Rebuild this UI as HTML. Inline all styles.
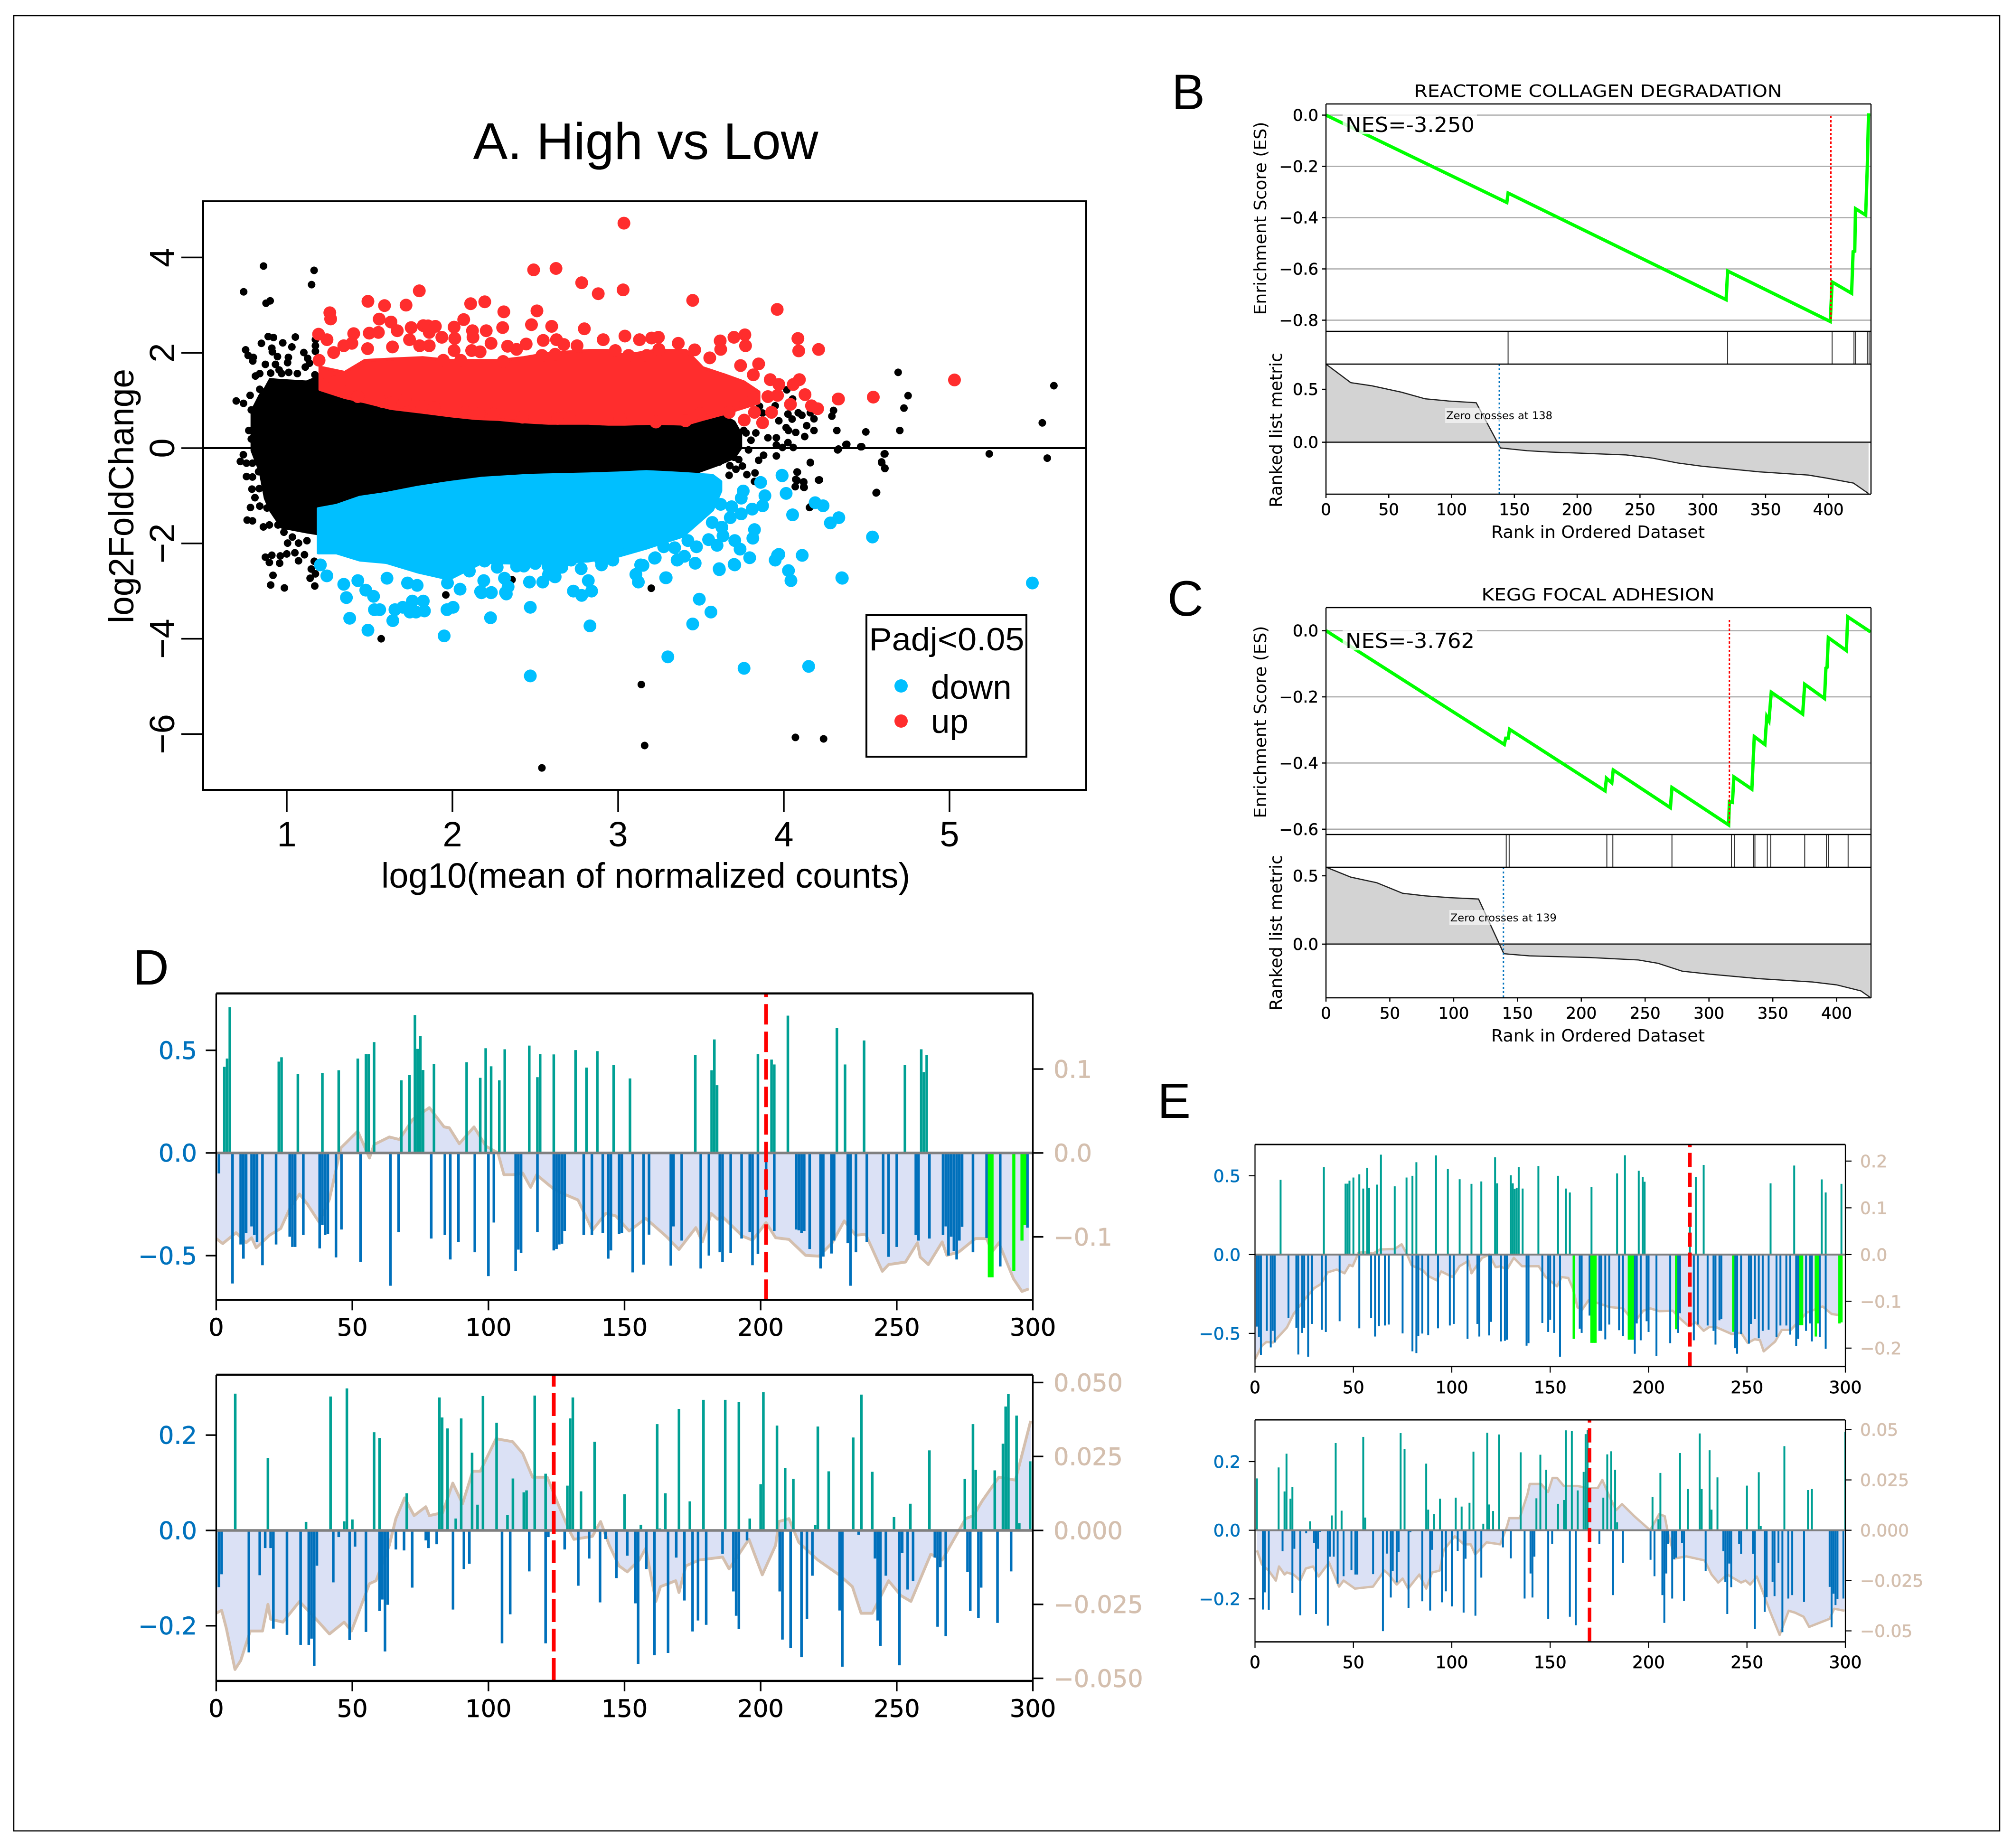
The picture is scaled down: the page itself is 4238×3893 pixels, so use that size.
<!DOCTYPE html>
<html><head><meta charset="utf-8"><title>Figure</title>
<style>
html,body{margin:0;padding:0;background:#fff}
svg{display:block}
.ls{font-family:"Liberation Sans",sans-serif}
.dj{font-family:"DejaVu Sans",sans-serif}
</style></head>
<body>
<svg id="fig" width="4238" height="3893" viewBox="0 0 4238 3893" xmlns="http://www.w3.org/2000/svg">
<rect width="4238" height="3893" fill="#fff"/>
<rect x="29" y="33" width="4183" height="3824" fill="none" stroke="#000" stroke-width="2.5"/>
<g id="panelA"></g>
<g id="panelB"></g>
<g id="panelC"></g>
<g id="panelD"></g>
<g id="panelE"></g>
<g id="labels">
<text class="ls" x="1360" y="335" font-size="109" text-anchor="middle" textLength="727" lengthAdjust="spacingAndGlyphs">A. High vs Low</text>
<text class="ls" x="1360" y="1870" font-size="74" text-anchor="middle" textLength="1114" lengthAdjust="spacingAndGlyphs">log10(mean of normalized counts)</text>
<text class="ls" transform="translate(281 1045) rotate(-90)" font-size="74" text-anchor="middle" textLength="536" lengthAdjust="spacingAndGlyphs">log2FoldChange</text>
<rect x="1825" y="1296" width="337" height="298" fill="#fff" stroke="#000" stroke-width="4"/>
<text class="ls" x="1994" y="1370" font-size="68" text-anchor="middle" textLength="327" lengthAdjust="spacingAndGlyphs">Padj&lt;0.05</text>
<circle cx="1898" cy="1445" r="14" fill="#00bfff"/>
<circle cx="1898" cy="1519" r="14" fill="#ff2d2d"/>
<text class="ls" x="1961" y="1472" font-size="71">down</text>
<text class="ls" x="1961" y="1544" font-size="71">up</text>
<text class="ls" x="2468" y="230" font-size="105">B</text>
<text class="ls" x="2459" y="1297" font-size="105">C</text>
<text class="ls" x="280" y="2074" font-size="105">D</text>
<text class="ls" x="2438" y="2355" font-size="105">E</text>
<text class="dj" x="3366" y="204" font-size="36" text-anchor="middle" textLength="775" lengthAdjust="spacingAndGlyphs">REACTOME COLLAGEN DEGRADATION</text>
<text class="dj" transform="translate(2667 460) rotate(-90)" font-size="36" text-anchor="middle" textLength="407" lengthAdjust="spacingAndGlyphs">Enrichment Score (ES)</text>
<text class="dj" transform="translate(2700 906) rotate(-90)" font-size="36" text-anchor="middle" textLength="326" lengthAdjust="spacingAndGlyphs">Ranked list metric</text>
<text class="dj" x="3366" y="1133" font-size="36" text-anchor="middle" textLength="450" lengthAdjust="spacingAndGlyphs">Rank in Ordered Dataset</text>
<text class="dj" x="3366" y="1265" font-size="36" text-anchor="middle" textLength="491" lengthAdjust="spacingAndGlyphs">KEGG FOCAL ADHESION</text>
<text class="dj" transform="translate(2667 1521) rotate(-90)" font-size="36" text-anchor="middle" textLength="405" lengthAdjust="spacingAndGlyphs">Enrichment Score (ES)</text>
<text class="dj" transform="translate(2700 1965) rotate(-90)" font-size="36" text-anchor="middle" textLength="328" lengthAdjust="spacingAndGlyphs">Ranked list metric</text>
<text class="dj" x="3366" y="2194" font-size="36" text-anchor="middle" textLength="450" lengthAdjust="spacingAndGlyphs">Rank in Ordered Dataset</text>
</g>
</svg>
<script>
/* ---------- Panel A data ---------- */
const maBlackX=[0.86,1.165,1.15,0.74,0.875,0.9,4.69,4.75,4.725,5.63,5.56,4.7,4.495,4.47,4.38,4.33,4.32,4.29,4.3,5.24,5.59,4.61,4.59,4.61,4.56,4.16,4.21,4.08,4.08,4.12,4.12,4.16,3.2,1.96,1.57,3.14,3.16,4.07,4.24,2.54,2.36,
0.888,0.92,1.052,0.847,0.976,1.031,0.752,0.91,0.913,0.767,0.798,0.795,0.944,1.01,1.103,1.126,0.871,0.932,1.005,1.112,1.137,0.954,1.012,0.811,0.837,0.903,0.969,1.064,1.17,0.837,0.779,0.695,0.739,0.786,0.771,0.786,0.72,0.738,0.757,0.793,0.757,0.793,0.83,0.79,0.834,0.808,0.781,0.837,0.761,0.793,0.859,0.895,0.881,0.947,0.983,1.034,1.005,1.071,1.122,1.049,1.107,1.166,1.0,0.961,0.91,0.871,0.895,0.957,1.071,0.917,0.903,0.986,1.169,1.148,1.173,1.141,1.173,1.173,1.173,
4.018,4.053,3.948,3.872,3.853,4.025,4.05,4.087,4.109,4.16,4.182,3.97,4.014,4.028,4.072,4.138,4.182,4.126,3.955,3.904,3.831,3.758,3.787,3.878,3.848,3.955,3.955,3.992,4.025,4.057,4.16,4.082,4.072,4.069,4.12,4.123,4.215,3.777,3.826,3.823,3.674,3.75,3.711,3.67,3.728,3.611,3.699,3.714,3.802,3.772,4.325,4.375,4.464,4.606,4.591,4.61,4.557,4.155];
const maBlackY=[3.82,3.73,3.43,3.28,3.04,3.09,1.59,1.1,0.84,1.31,0.53,0.37,0.34,0.03,0.08,-0.02,0.37,0.67,0.79,-0.12,-0.21,-0.12,-0.29,-0.42,-0.93,-0.3,-0.67,-0.5,-0.68,-0.72,-0.82,-1.23,-2.94,-3.08,-4,-4.96,-6.24,-6.07,-6.1,-6.71,-2.76,
2.341,2.321,2.331,2.199,2.209,2.123,2.062,2.097,2.021,1.945,1.904,1.828,1.92,1.904,2.006,1.884,1.757,1.757,1.793,1.701,1.782,1.64,1.589,1.513,1.564,1.574,1.564,1.564,1.538,1.234,1.107,0.99,0.939,0.802,0.37,0.192,-0.28,-0.138,-0.316,-0.316,-0.596,-0.606,-0.494,-0.86,-0.85,-1.04,-1.246,-1.216,-1.51,-1.526,-1.653,-1.612,-1.256,-1.612,-1.764,-1.866,-1.993,-1.993,-1.942,-2.196,-2.237,-2.374,-2.22,-2.262,-2.247,-2.288,-2.399,-2.415,-2.364,-2.669,-2.872,-2.933,-2.893,-2.537,-2.638,-2.73,2.275,2.148,2.031,
1.223,1.03,0.888,0.736,0.878,0.715,0.609,0.741,0.69,0.741,0.614,0.573,0.43,0.37,0.329,0.471,0.37,0.243,0.217,0.217,0.319,0.37,-0.037,-0.149,-0.255,-0.164,0.065,0.014,0.116,0.014,-0.306,-0.504,-0.657,-0.809,-0.708,-0.824,-0.667,-0.555,-0.52,-0.7,-0.367,-0.377,-0.443,-0.57,-0.24,-0.29,-0.19,0.141,0.166,0.319,-0.037,0.075,0.029,-0.123,-0.306,-0.428,-0.94,-1.246];
const maRedX=[3.035,2.49,2.625,2.78,2.88,3.03,1.8,1.49,1.59,1.72,1.26,1.265,2.11,2.195,2.31,2.51,3.45,3.96,4.085,4.09,4.21,5.03,4.54,4.33,
1.192,1.243,1.283,1.195,1.236,1.29,1.363,1.429,1.575,1.626,1.714,1.817,1.89,2.08,2.16,2.248,2.423,2.635,2.708,1.558,1.629,1.667,1.751,1.824,1.853,1.897,1.936,1.86,1.498,1.553,1.404,1.393,1.344,1.488,1.638,1.741,1.802,1.86,2.01,2.068,2.014,2.01,2.121,2.124,2.204,2.233,2.303,2.333,2.387,2.445,2.548,2.628,2.672,2.752,2.477,2.599,2.796,2.116,2.167,1.945,2.05,2.54,2.62,2.306,
3.041,3.129,3.202,3.243,2.91,2.983,3.063,3.363,3.462,3.246,3.173,3.553,3.619,3.616,3.699,3.765,3.769,3.739,3.848,3.816,3.918,3.97,4.057,4.094,3.962,3.904,4.128,4.04,4.167,4.204,3.926,3.823,3.761,3.872,4.328,3.67,3.407,3.228,3.012,3.495,3.772,3.816];
const maRedY=[4.72,3.74,3.77,3.47,3.24,3.32,3.3,3.08,2.99,3,2.84,2.71,3.03,3.07,2.86,2.88,3.1,2.91,2.3,2.04,2.07,1.43,1.07,1.03,
2.39,2.275,2.006,1.843,1.335,1.386,1.183,1.081,0.979,0.944,1.005,0.878,0.852,0.751,0.725,0.715,0.649,0.624,0.634,2.707,2.646,2.463,2.529,2.57,2.565,2.555,2.326,2.428,2.412,2.428,2.402,2.199,2.148,2.087,2.123,2.275,2.148,2.148,2.539,2.697,2.301,2.047,2.463,2.326,2.463,2.199,2.529,2.138,2.072,2.184,2.26,2.275,2.174,2.148,2.59,2.555,2.504,2.047,2.021,1.843,1.843,1.945,1.97,1.818,
2.351,2.275,2.31,2.326,2.275,2.047,1.945,2.199,2.062,2.072,1.945,1.894,2.072,2.25,2.326,2.377,2.148,1.732,1.767,1.538,1.437,1.335,1.335,1.437,1.107,1.081,1.122,0.918,0.888,0.827,0.751,0.751,0.588,0.532,1.03,0.751,0.573,0.548,0.624,0.725,0.98,1.03];
const maBlueX=[5.5,4.15,3.76,3.3,2.47,1.95,1.49,1.38,1.64,2.23,2.83,2.47,3.45,3.56,3.49,3.29,4.35,3.97,3.99,
1.203,1.242,1.344,1.429,1.477,1.524,1.36,1.529,1.561,1.653,1.7,1.758,1.824,1.743,1.78,1.831,1.967,2.004,1.605,1.729,1.787,1.97,2.046,2.189,2.175,2.233,2.325,2.336,2.314,2.27,2.102,2.194,2.387,2.431,2.618,2.577,2.716,2.777,
2.895,2.968,3.07,3.136,3.107,3.122,3.224,3.287,3.356,3.4,3.465,3.611,3.704,3.794,3.736,3.704,3.597,3.546,3.473,3.421,3.341,3.275,3.633,3.568,3.626,3.677,3.743,3.619,3.685,3.809,3.872,3.886,3.743,3.755,3.86,3.989,4.014,4.053,4.189,4.237,4.332,4.281,4.535,3.962,3.948,4.111,4.028,4.043,4.353,3.823,3.813,
2.84,2.78,2.73,2.82,2.62,2.545,2.465,2.62,2.5,2.32,2.235,2.17,3.15,3.22,3.36,3.61,3.7,2.66,2.9,2.58];
const maBlueY=[-2.83,-4.58,-4.62,-4.38,-4.78,-3.94,-3.82,-3.57,-3.62,-3.56,-3.73,-3.34,-3.69,-3.44,-3.17,-2.72,-2.72,-2.23,-0.58,
-2.45,-2.68,-2.857,-2.78,-2.98,-3.11,-3.136,-3.39,-3.39,-3.39,-3.34,-3.21,-3.21,-3.44,-3.44,-3.416,-3.39,-3.34,-2.73,-2.83,-2.88,-2.83,-2.96,-2.78,-3.035,-3.035,-3.06,-2.91,-2.73,-2.5,-2.58,-2.37,-2.475,-2.475,-2.7,-2.475,-2.35,-2.53,
-2.35,-2.35,-2.09,-2.45,-2.65,-2.81,-2.3,-2.72,-2.35,-2.27,-2.415,-2.55,-2.45,-2.3,-2.12,-1.94,-2.04,-1.92,-2.07,-1.94,-2.09,-2.07,-1.84,-1.56,-1.66,-1.46,-1.38,-1.18,-1.23,-1.28,-1.21,-1,-1.05,-0.9,-0.72,-0.57,-0.95,-1.4,-1.145,-1.21,-1.46,-1.57,-1.865,-2.25,-2.35,-2.25,-2.57,-2.78,-2.73,-1.71,-1.89,
-3,-3.09,-3,-2.78,-2.7,-2.81,-2.81,-2.48,-2.42,-3.03,-3.03,-3.01,-2.46,-2.31,-2.34,-2.53,-2.44,-2.5,-2.45,-2.65];
const maXTicks=[1,2,3,4,5];
const maYTicks=[4,2,0,-2,-4,-6];
const maYLabels=['4','2','0','\u22122','\u22124','\u22126'];
const blackCloudX=[0.79,0.84,0.87,0.9,0.97,1.12,1.19,1.5,2,2.5,3,3.4,3.6,3.7,3.74];
const blackCloudUp=[0.78,1.12,1.25,1.44,1.42,1.39,1.49,1.2,0.9,0.8,0.8,0.8,0.75,0.55,0.3];
const blackCloudLow=[-0.05,-0.5,-1.05,-1.3,-1.66,-1.76,-1.8,-1.5,-0.9,-0.7,-0.7,-0.6,-0.35,-0.2,0];
const redCloudX=[1.2,1.35,1.47,1.63,1.82,1.99,2.14,2.28,2.43,2.58,2.82,2.94,3.04,3.22,3.41,3.51,3.64,3.76,3.85];
const redCloudUp=[1.7,1.59,1.84,1.87,1.9,1.84,1.84,1.84,1.9,1.99,2.05,2.05,1.95,2.05,2.05,1.69,1.54,1.39,1.18];
const redCloudLow=[1.23,1.06,0.97,0.83,0.75,0.675,0.62,0.6,0.55,0.52,0.52,0.5,0.5,0.52,0.5,0.6,0.72,0.85,0.95];
const blueCloudX=[1.19,1.3,1.44,1.6,1.79,1.98,2.18,2.46,2.82,3.0,3.17,3.39,3.57,3.62];
const blueCloudUp=[-1.27,-1.2,-1.03,-0.95,-0.82,-0.72,-0.63,-0.57,-0.54,-0.52,-0.49,-0.53,-0.57,-0.7];
const blueCloudLow=[-2.2,-2.2,-2.35,-2.4,-2.6,-2.75,-2.4,-2.42,-2.37,-2.27,-2.1,-1.85,-1.3,-0.9];

/* ---------- GSEA B data ---------- */
const bEsRanks=[0,144,145,318.6,319.8,401.5,403,418.5,419.7,421,421.6,429.7,431,432];
const bEsVals=[0,-0.341,-0.304,-0.72,-0.608,-0.805,-0.651,-0.695,-0.533,-0.531,-0.365,-0.39,-0.2,0.007];
const bHits=[145,319.8,403,420.4,421.6,431,432.4];
const bMetricRanks=[0,19.7,36.6,60,79,98,119.6,138.9,160,179,239,260,280,299,345,384,399,420,432];
const bMetricVals=[0.738,0.563,0.533,0.473,0.41,0.389,0.373,-0.054,-0.08,-0.093,-0.12,-0.15,-0.196,-0.226,-0.28,-0.31,-0.34,-0.386,-0.485];
const bXTicks=[0,50,100,150,200,250,300,350,400];
const bEsTicks=[0,-0.2,-0.4,-0.6,-0.8];
const bEsLabels=['0.0','\u22120.2','\u22120.4','\u22120.6','\u22120.8'];
const bMetricTicks=[0.5,0];
const bMetricLabels=['0.5','0.0'];

/* ---------- GSEA C data ---------- */
const cEsRanks=[0,139.7,140.8,142.7,143.8,218.6,219.7,223.9,225,269.8,271,315.4,316,318.4,319.5,333.6,335.5,343.8,345.3,347,348.8,373.4,375,390.5,391.6,392.5,393.5,407.6,408.7,426.6];
const cEsVals=[0,-0.344,-0.325,-0.325,-0.298,-0.484,-0.446,-0.46,-0.421,-0.535,-0.474,-0.587,-0.517,-0.519,-0.442,-0.479,-0.32,-0.344,-0.26,-0.272,-0.186,-0.252,-0.162,-0.205,-0.113,-0.111,-0.021,-0.06,0.042,-0.004];
const cHits=[141.2,143.5,220,224.7,271,317.6,320,335,336,345.7,348.4,375,392,393.5,409];
const cMetricRanks=[0,19.4,39.8,60,77.8,96.8,119.5,139.3,159.4,206.8,244.8,260,279,300,339.7,381,400,419,426];
const cMetricVals=[0.563,0.49,0.449,0.372,0.353,0.34,0.33,-0.07,-0.086,-0.098,-0.116,-0.14,-0.198,-0.219,-0.253,-0.277,-0.298,-0.342,-0.388];
const cXTicks=[0,50,100,150,200,250,300,350,400];
const cEsTicks=[0,-0.2,-0.4,-0.6];
const cEsLabels=['0.0','\u22120.2','\u22120.4','\u22120.6'];
const cMetricTicks=[0.5,0];
const cMetricLabels=['0.5','0.0'];

/* ---------- D1 data ---------- */
const d1UpRanks=[3,4,5,23,24,30,39,45,52,55,56,58,68,71,73,74,75,76,80,92,97,99,101,104,106,115,118,119,124,132,136,140,146,152,176,182,183,184,199,204,205,210,228,231,238,253,259,260,261];
const d1UpVals=[0.42,0.46,0.71,0.445,0.466,0.385,0.39,0.403,0.46,0.482,0.482,0.54,0.354,0.379,0.672,0.507,0.57,0.404,0.434,0.442,0.366,0.51,0.422,0.354,0.505,0.523,0.369,0.482,0.48,0.501,0.416,0.496,0.428,0.363,0.476,0.403,0.553,0.33,0.482,0.455,0.431,0.669,0.608,0.431,0.548,0.428,0.505,0.394,0.476];
const d1DownRanks=[6,9,10,11,13,14,15,17,22,27,28,29,32,38,39,40,41,44,46,53,64,67,79,84,86,89,95,100,102,110,111,112,118,124,125,126,127,128,135,138,142,144,145,148,149,153,157,159,167,168,171,178,181,185,186,189,193,196,197,199,202,205,213,214,215,216,218,222,223,226,227,232,233,235,239,245,247,250,257,258,262,267,268,269,270,271,272,273,274,278,283,288,298,1];
const d1DownVals=[-0.636,-0.446,-0.515,-0.39,-0.358,-0.4,-0.433,-0.547,-0.446,-0.408,-0.458,-0.458,-0.4,-0.465,-0.35,-0.4,-0.395,-0.509,-0.373,-0.53,-0.647,-0.385,-0.417,-0.4,-0.519,-0.433,-0.484,-0.6,-0.339,-0.575,-0.471,-0.487,-0.385,-0.475,-0.468,-0.446,-0.442,-0.38,-0.4,-0.4,-0.39,-0.515,-0.475,-0.395,-0.39,-0.582,-0.544,-0.398,-0.549,-0.358,-0.427,-0.563,-0.5,-0.484,-0.531,-0.487,-0.417,-0.385,-0.547,-0.492,-0.314,-0.38,-0.373,-0.377,-0.39,-0.38,-0.468,-0.563,-0.505,-0.49,-0.427,-0.44,-0.647,-0.484,-0.433,-0.395,-0.506,-0.458,-0.4,-0.427,-0.417,-0.4,-0.358,-0.5,-0.408,-0.477,-0.519,-0.427,-0.36,-0.484,-0.414,-0.553,-0.364,-0.1];
const d1GreenRanks=[284,285,293,296,297];
const d1GreenVals=[-0.606,-0.606,-0.574,-0.427,-0.351];
const d1LineRanks=[0,2.4,7.3,11,13,14.7,19.6,23.7,26.9,30.6,33.5,37.9,41.6,45.8,52,56.3,58,63.6,67.3,72.2,78.3,83.7,85.6,89.3,94.7,99.1,103.5,105.7,108.9,112.6,115.5,117.7,124,128.5,132.9,138.2,143.1,146.8,151.7,157.8,165.2,170,176.2,178.6,181.8,184.2,186,193.3,197,202,205.5,210.4,216.5,221.4,226.3,230.7,234.9,238.6,244.7,247,253.2,257.6,258.6,261.6,266.7,268.4,272.8,278.9,283,285,287.5,292.9,296,298.5];
const d1LineVals=[-0.102,-0.108,-0.095,-0.107,-0.101,-0.113,-0.098,-0.09,-0.067,-0.049,-0.061,-0.083,-0.055,0.006,0.026,-0.006,0.01,0.019,0.016,0.04,0.054,0.031,0.03,0.011,0.031,0.008,0,-0.026,-0.026,-0.024,-0.041,-0.026,-0.043,-0.05,-0.056,-0.092,-0.072,-0.075,-0.093,-0.078,-0.099,-0.115,-0.089,-0.106,-0.072,-0.079,-0.076,-0.099,-0.104,-0.083,-0.101,-0.103,-0.122,-0.123,-0.107,-0.081,-0.098,-0.097,-0.141,-0.133,-0.13,-0.107,-0.124,-0.133,-0.106,-0.122,-0.118,-0.102,-0.102,-0.118,-0.107,-0.15,-0.165,-0.162];
const d1LeftTicks=[0.5,0,-0.5];
const d1LeftLabels=['0.5','0.0','\u22120.5'];
const d1RightTicks=[0.1,0,-0.1];
const d1RightLabels=['0.1','0.0','\u22120.1'];

/* ---------- D2 data ---------- */
const d2UpRanks=[7,19,33,42,47,48,50,58,60,70,82,83,85,88,90,94,96,98,103,107,109,113,114,117,121,129,130,131,134,139,150,156,162,163,165,170,174,179,187,192,196,200,201,206,209,212,220,221,225,234,237,241,249,255,262,275,278,279,286,289,290,291,294,295,299];
const d2UpVals=[0.287,0.152,0.018,0.281,0.019,0.298,0.023,0.206,0.194,0.078,0.279,0.237,0.214,0.025,0.235,0.163,0.054,0.282,0.226,0.032,0.109,0.08,0.084,0.283,0.119,0.094,0.235,0.279,0.082,0.186,0.076,0.012,0.223,0.004,0.078,0.255,0.061,0.274,0.274,0.269,0.025,0.097,0.29,0.22,0.131,0.108,0.011,0.218,0.124,0.195,0.285,0.123,0.028,0.056,0.168,0.108,0.223,0.127,0.126,0.182,0.26,0.286,0.241,0.015,0.145];
const d2DownRanks=[1,2,12,16,18,20,21,26,31,34,35,36,37,43,45,49,51,55,60,61,62,63,66,69,72,77,78,81,87,91,93,105,108,115,121,122,128,133,137,141,143,147,151,154,155,158,161,166,169,172,175,177,180,186,190,191,192,195,207,208,211,215,217,219,229,230,236,242,243,244,246,251,252,254,256,264,265,266,268,276,277,280,281,287,292];
const d2DownVals=[-0.119,-0.092,-0.256,-0.094,-0.037,-0.037,-0.206,-0.219,-0.24,-0.24,-0.227,-0.284,-0.074,-0.109,-0.014,-0.23,-0.034,-0.213,-0.169,-0.145,-0.254,-0.156,-0.04,-0.042,-0.12,-0.021,-0.037,-0.029,-0.166,-0.081,-0.07,-0.237,-0.176,-0.086,-0.237,-0.014,-0.04,-0.116,-0.059,-0.151,-0.018,-0.1,-0.053,-0.153,-0.28,-0.081,-0.262,-0.257,-0.057,-0.147,-0.212,-0.189,-0.198,-0.049,-0.128,-0.179,-0.207,-0.021,-0.128,-0.229,-0.247,-0.266,-0.186,-0.095,-0.168,-0.286,-0.009,-0.059,-0.189,-0.242,-0.095,-0.283,-0.047,-0.124,-0.106,-0.057,-0.202,-0.077,-0.222,-0.087,-0.169,-0.184,-0.12,-0.194,-0.086];
const d2GreenRanks=[];
const d2GreenVals=[];
const d2LineRanks=[0,2,3.7,6.9,9,12.5,17,19,20,24.5,30.6,36.7,41.6,47,49.7,52.6,56.3,58.7,63.6,66,69.2,72.7,77,78.3,83.2,86.9,90.5,94.2,97,102.8,108.9,112.6,116.2,121.6,126,129.7,131.4,138.2,141.2,144.4,148,151,155.4,157.8,161.5,163.2,168.8,170,172.5,177.4,186,188.4,195.7,200.6,205.5,206.7,210.4,214,221,228.8,233.7,236.9,241,247,251.5,255.2,262.5,266.7,275.3,278.2,281.4,287.5,293.6,299.2];
const d2LineVals=[-0.028,-0.027,-0.033,-0.047,-0.044,-0.034,-0.034,-0.025,-0.03,-0.031,-0.024,-0.03,-0.035,-0.031,-0.034,-0.027,-0.018,-0.017,-0.005,0.004,0.011,0.005,0.008,0.005,0.006,0.016,0.009,0.02,0.02,0.031,0.03,0.026,0.018,0.018,0.008,0,-0.003,-0.002,0.003,-0.005,-0.012,-0.014,-0.01,-0.006,-0.024,-0.019,-0.017,-0.021,-0.012,-0.01,-0.009,-0.013,-0.003,-0.015,-0.005,0.003,0.004,-0.004,-0.01,-0.015,-0.019,-0.028,-0.028,-0.017,-0.022,-0.024,-0.008,-0.01,0.004,0.005,0.01,0.018,0.017,0.037];
const d2LeftTicks=[0.2,0,-0.2];
const d2LeftLabels=['0.2','0.0','\u22120.2'];
const d2RightTicks=[0.05,0.025,0,-0.025,-0.05];
const d2RightLabels=['0.050','0.025','0.000','\u22120.025','\u22120.050'];

/* ---------- E1 data ---------- */
const e1UpRanks=[13,35,46,47,48,50,53,55,57,58,62,64,71,77,80,82,92,98,104,110,115,122,123,130,131,132,133,134,136,144,154,158,160,171,184,188,195,197,198,221,224,228,262,274,288,290,298];
const e1UpVals=[0.474,0.554,0.45,0.45,0.469,0.489,0.509,0.419,0.551,0.423,0.444,0.634,0.433,0.489,0.5,0.586,0.629,0.543,0.478,0.449,0.464,0.617,0.452,0.503,0.452,0.417,0.423,0.554,0.419,0.562,0.5,0.419,0.394,0.429,0.515,0.63,0.532,0.492,0.462,0.242,0.492,0.569,0.452,0.565,0.477,0.394,0.449];
const e1DownRanks=[1,2,3,6,8,9,10,17,21,22,24,25,27,29,34,36,43,53,59,61,63,66,68,75,80,82,83,85,88,93,99,101,108,113,114,119,120,125,127,128,138,139,146,149,150,152,155,165,166,170,175,176,178,180,185,187,193,194,196,199,200,204,211,215,216,223,225,230,233,234,236,237,244,245,247,251,252,254,256,258,261,265,267,270,272,275,276,280,282,283,287,290];
const e1DownVals=[-0.457,-0.522,-0.638,-0.484,-0.589,-0.484,-0.558,-0.403,-0.464,-0.634,-0.497,-0.464,-0.648,-0.44,-0.477,-0.491,-0.423,-0.468,-0.403,-0.52,-0.454,-0.45,-0.444,-0.5,-0.614,-0.625,-0.517,-0.501,-0.511,-0.468,-0.45,-0.44,-0.535,-0.44,-0.52,-0.513,-0.427,-0.551,-0.547,-0.54,-0.578,-0.562,-0.434,-0.491,-0.414,-0.497,-0.648,-0.47,-0.497,-0.387,-0.484,-0.484,-0.538,-0.444,-0.48,-0.517,-0.629,-0.437,-0.544,-0.423,-0.491,-0.642,-0.562,-0.497,-0.372,-0.544,-0.444,-0.45,-0.484,-0.571,-0.417,-0.41,-0.594,-0.629,-0.504,-0.565,-0.44,-0.41,-0.531,-0.484,-0.477,-0.524,-0.45,-0.45,-0.508,-0.581,-0.535,-0.484,-0.437,-0.551,-0.522,-0.598];
const e1GreenRanks=[162,171,172,173,190,191,192,214,243,277,278,285,286,297,298];
const e1GreenVals=[-0.535,-0.56,-0.56,-0.56,-0.54,-0.54,-0.54,-0.474,-0.49,-0.448,-0.448,-0.52,-0.437,-0.437,-0.43];
const e1LineRanks=[0,3.5,5.8,9.2,16.2,19.6,25.4,30,33.5,36.9,41.5,45.5,48,49.6,52.6,55.4,60,63.5,71,74.5,77.3,79.6,85.4,87.7,92.3,94.6,100.4,103.9,108.5,110,115.4,119,122.3,124.6,128,131.5,135.7,144.2,147.7,153.5,155.8,159.2,161.5,163.9,166.2,169.6,180,187,192.7,197.3,200.8,205.4,212.3,215.8,220.4,223.9,228,230.8,234.2,242.3,247,250.4,253.9,256.6,258.5,264.3,267.7,272.3,275.8,280.4,288.5,293,297.7];
const e1LineVals=[-0.224,-0.195,-0.187,-0.188,-0.156,-0.127,-0.095,-0.072,-0.063,-0.038,-0.032,-0.04,-0.022,-0.025,0.004,0.005,0.002,0.011,0.012,0.022,0,-0.023,-0.034,-0.045,-0.055,-0.036,-0.048,-0.025,-0.013,-0.04,-0.007,0,-0.027,-0.025,-0.032,-0.007,-0.025,-0.025,-0.048,-0.068,-0.048,-0.05,-0.072,-0.113,-0.118,-0.097,-0.112,-0.115,-0.145,-0.12,-0.115,-0.121,-0.12,-0.136,-0.153,-0.145,-0.163,-0.155,-0.155,-0.17,-0.167,-0.189,-0.181,-0.183,-0.207,-0.186,-0.161,-0.161,-0.145,-0.124,-0.111,-0.127,-0.13];
const e1LeftTicks=[0.5,0,-0.5];
const e1LeftLabels=['0.5','0.0','\u22120.5'];
const e1RightTicks=[0.2,0.1,0,-0.1,-0.2];
const e1RightLabels=['0.2','0.1','0.0','\u22120.1','\u22120.2'];

/* ---------- E2 data ---------- */
const e2UpRanks=[1,12,15,16,18,19,28,39,41,44,55,56,74,76,87,88,91,94,102,105,109,111,116,118,119,121,124,135,143,145,148,154,157,158,161,164,167,168,169,177,179,181,183,184,202,205,206,216,220,226,227,231,232,235,250,256,257,269,281,283,300];
const e2UpVals=[0.151,0.183,0.113,0.223,0.092,0.126,0.026,0.043,0.254,0.057,0.272,0.037,0.283,0.237,0.194,0.06,0.047,0.092,0.095,0.069,0.08,0.229,0.019,0.284,0.075,0.056,0.279,0.227,0.093,0.22,0.176,0.077,0.088,0.291,0.289,0.116,0.17,0.28,0.292,0.095,0.221,0.23,0.176,0.023,0.097,0.032,0.167,0.225,0.12,0.282,0.12,0.233,0.06,0.154,0.13,0.169,0.012,0.245,0.117,0.12,0.287];
const e2DownRanks=[4,5,7,14,19,20,23,26,30,31,32,33,37,38,40,42,45,49,51,52,60,65,67,69,70,72,73,78,79,85,89,90,95,97,100,103,106,107,112,115,126,130,137,140,141,142,149,151,160,163,175,182,187,201,203,207,208,209,210,212,213,214,217,218,229,238,239,240,241,242,246,247,253,254,259,260,263,264,266,268,271,273,279,292,293,294,295,296,299];
const e2DownVals=[-0.231,-0.181,-0.232,-0.061,-0.183,-0.054,-0.248,-0.009,-0.037,-0.244,-0.054,-0.005,-0.278,-0.077,-0.077,-0.156,-0.134,-0.116,-0.129,-0.129,-0.128,-0.294,-0.068,-0.196,-0.119,-0.152,-0.063,-0.226,-0.006,-0.207,-0.234,-0.057,-0.21,-0.178,-0.222,-0.06,-0.24,-0.083,-0.249,-0.138,-0.05,-0.082,-0.199,-0.126,-0.196,-0.077,-0.258,-0.04,-0.252,-0.277,-0.04,-0.189,-0.095,-0.086,-0.134,-0.189,-0.27,-0.126,-0.04,-0.199,-0.085,-0.08,-0.037,-0.206,-0.119,-0.061,-0.151,-0.244,-0.097,-0.166,-0.04,-0.069,-0.069,-0.288,-0.238,-0.195,-0.151,-0.192,-0.095,-0.297,-0.199,-0.189,-0.209,-0.165,-0.283,-0.185,-0.218,-0.2,-0.199];
const e2GreenRanks=[];
const e2GreenVals=[];
const e2LineRanks=[1,3.5,6.9,10.6,12.2,15,16.2,19.6,23,25.8,29.5,32.3,37.6,42.7,45,50.8,60,65.8,68,72,75,77.8,83.5,87,90,93.9,95.8,101.5,106.2,109.6,111.9,117.7,124.6,128.1,129.2,134.5,138.5,139.6,145.4,148.9,151.2,153.5,156.9,163.9,168.5,174.2,176.5,180,183.5,186.5,192.7,200.8,205.4,208.2,210,213.5,219.2,228.5,232,235.4,240,243.5,247,249.3,251.6,255,257.8,262,266.6,271.2,274.6,278.8,281.6,292,294.3,299.6];
const e2LineVals=[-0.01,-0.017,-0.02,-0.025,-0.018,-0.022,-0.021,-0.022,-0.025,-0.019,-0.018,-0.023,-0.016,-0.028,-0.025,-0.029,-0.028,-0.02,-0.022,-0.027,-0.024,-0.029,-0.022,-0.029,-0.021,-0.02,-0.01,-0.003,-0.007,-0.007,-0.012,-0.006,-0.007,0.002,0.006,0.006,0.018,0.023,0.023,0.019,0.026,0.026,0.022,0.022,0.021,0.021,0.025,0.017,0.01,0.013,0.007,0,0.008,0.007,-0.002,-0.014,-0.013,-0.015,-0.022,-0.026,-0.022,-0.024,-0.026,-0.025,-0.027,-0.023,-0.03,-0.041,-0.052,-0.04,-0.041,-0.043,-0.048,-0.044,-0.039,-0.04];
const e2LeftTicks=[0.2,0,-0.2];
const e2LeftLabels=['0.2','0.0','\u22120.2'];
const e2RightTicks=[0.05,0.025,0,-0.025,-0.05];
const e2RightLabels=['0.05','0.025','0.000','\u22120.025','\u22120.05'];
const barXTicks=[0,50,100,150,200,250,300];

/* ---------- helpers ---------- */
const NS='http://www.w3.org/2000/svg';
function mk(parent,tag,attrs,txt){
  const e=document.createElementNS(NS,tag);
  for(const k in attrs)e.setAttribute(k,attrs[k]);
  if(txt!==undefined)e.textContent=txt;
  parent.appendChild(e);
  return e;
}
function tag(e,name){
  
  
  return e;
}
const DJ='"DejaVu Sans",sans-serif', LS='"Liberation Sans",sans-serif';

/* ---------- Panel A ---------- */
(function(){
  const g=document.getElementById('panelA');
  const X=v=>604+(v-1)*349, Y=v=>944-100.4*v;
  const L=428,R=2288,T=424,B=1664;
  tag(mk(g,'line',{x1:L,x2:R,y1:Y(0),y2:Y(0),stroke:'#000','stroke-width':4}),'zero-line');
  function cloud(xs,up,low,col,name){
    const pts=xs.map((x,i)=>X(x)+','+Y(up[i])).concat(xs.map((x,i)=>X(x)+','+Y(low[i])).reverse()).join(' ');
    tag(mk(g,'polygon',{points:pts,fill:col,stroke:col,'stroke-width':6,'stroke-linejoin':'round'}),name);
  }
  cloud(blackCloudX,blackCloudUp,blackCloudLow,'#000','black-point-cloud');
  maBlackX.forEach((x,i)=>{
    tag(mk(g,'circle',{cx:X(x),cy:Y(maBlackY[i]),r:8,fill:'#000'}),'ns-point');
  });
  cloud(blueCloudX,blueCloudUp,blueCloudLow,'#00bfff','down-point-cloud');
  maBlueX.forEach((x,i)=>{
    tag(mk(g,'circle',{cx:X(x),cy:Y(maBlueY[i]),r:13.5,fill:'#00bfff'}),'down-point');
  });
  cloud(redCloudX,redCloudUp,redCloudLow,'#ff2d2d','up-point-cloud');
  maRedX.forEach((x,i)=>{
    tag(mk(g,'circle',{cx:X(x),cy:Y(maRedY[i]),r:13.5,fill:'#ff2d2d'}),'up-point');
  });
  tag(mk(g,'rect',{x:L,y:T,width:R-L,height:B-T,fill:'none',stroke:'#000','stroke-width':4}),'ma-plot-box');
  maXTicks.forEach(t=>{
    tag(mk(g,'line',{x1:X(t),x2:X(t),y1:B,y2:B+46,stroke:'#000','stroke-width':3.5}),'x-tick');
    tag(mk(g,'text',{x:X(t),y:1783,'text-anchor':'middle','font-size':74,'font-family':LS},String(t)),'x-tick-label');
  });
  maYTicks.forEach((t,i)=>{
    tag(mk(g,'line',{x1:L-46,x2:L,y1:Y(t),y2:Y(t),stroke:'#000','stroke-width':3.5}),'y-tick');
    tag(mk(g,'text',{transform:'translate(367 '+Y(t)+') rotate(-90)','text-anchor':'middle','font-size':74,'font-family':LS},maYLabels[i]),'y-tick-label');
  });
})();

/* ---------- GSEA panels ---------- */
function gsea(o){
  const g=document.getElementById(o.id);
  const L=2793,R=3941;
  const X=v=>L+v*o.xk;
  const Ye=v=>o.ey0-o.ek*v, Ym=v=>o.my0-o.mk*v;
  const line=(x1,y1,x2,y2,st,w,extra,nm)=>tag(mk(g,'line',Object.assign({x1,y1,x2,y2,stroke:st,'stroke-width':w},extra||{})),nm);
  o.eTicks.forEach((t,i)=>{
    line(L,Ye(t),R,Ye(t),'#aaa',2.5,null,'es-gridline');
    line(L-8,Ye(t),L,Ye(t),'#000',2.5,null,'es-tick');
    tag(mk(g,'text',{x:L-16,y:Ye(t)+12,'text-anchor':'end','font-size':34,'font-family':DJ,stroke:'#000','stroke-width':0.5},o.eLabels[i]),'es-tick-label');
  });
  tag(mk(g,'polyline',{points:o.eR.map((r,i)=>X(r)+','+Ye(o.eV[i])).join(' '),fill:'none',stroke:'#00ff00','stroke-width':7,'stroke-linejoin':'miter'}),'enrichment-score-line');
  line(X(o.red),o.redTop,X(o.red),o.redBottom,'#f00',3,{'stroke-dasharray':'5 4'},'peak-marker-line');
  tag(mk(g,'rect',{x:2828,y:o.nesY-23,width:283,height:44,fill:'#fff','fill-opacity':0.8}),'nes-box');
  tag(mk(g,'text',{x:2834,y:o.nesY+16,'font-size':44,'font-family':DJ,textLength:272,lengthAdjust:'spacingAndGlyphs'},o.nes),'nes-label');
  o.hits.forEach(h=>{
    line(X(h),o.t2,X(h),o.t3,'#333',2,null,'gene-hit');
  });
  const pts=[X(o.mR[0])+','+Ym(0)].concat(o.mR.map((r,i)=>X(r)+','+Ym(o.mV[i])),[X(o.mR[o.mR.length-1])+','+Ym(0)]).join(' ');
  tag(mk(g,'polygon',{points:pts,fill:'#d3d3d3'}),'metric-area');
  tag(mk(g,'polyline',{points:o.mR.map((r,i)=>X(r)+','+Ym(o.mV[i])).join(' '),fill:'none',stroke:'#222','stroke-width':2.5}),'metric-line');
  line(L,Ym(0),R,Ym(0),'#333',3,null,'metric-zero-line');
  line(X(o.zero),o.t3,X(o.zero),o.b,'#0072bd',3,{'stroke-dasharray':'4 5'},'zero-cross-line');
  tag(mk(g,'rect',{x:X(o.zero)-114,y:o.zeroY-16,width:118,height:32,fill:'#fff','fill-opacity':0.6}),'zero-cross-box');
  tag(mk(g,'text',{x:X(o.zero),y:o.zeroY+8,'text-anchor':'middle','font-size':22,'font-family':DJ,textLength:224,lengthAdjust:'spacingAndGlyphs'},o.zeroText),'zero-cross-label');
  [o.t1,o.t2,o.t3,o.b].forEach(y=>{
    line(L,y,R,y,'#000',2.5,null,'gsea-panel-border');
  });
  line(L,o.t1,L,o.b,'#000',2.5,null,'gsea-left-spine');
  line(R,o.t1,R,o.b,'#000',2.5,null,'gsea-right-spine');
  o.mTicks.forEach((t,i)=>{
    line(L-8,Ym(t),L,Ym(t),'#000',2.5,null,'metric-tick');
    tag(mk(g,'text',{x:L-16,y:Ym(t)+12,'text-anchor':'end','font-size':34,'font-family':DJ,stroke:'#000','stroke-width':0.5},o.mLabels[i]),'metric-tick-label');
  });
  o.xTicks.forEach(t=>{
    line(X(t),o.b,X(t),o.b+8,'#000',2.5,null,'rank-tick');
    tag(mk(g,'text',{x:X(t),y:o.b+44,'text-anchor':'middle','font-size':34,'font-family':DJ,stroke:'#000','stroke-width':0.5},String(t)),'rank-tick-label');
  });
}
gsea({id:'panelB',xk:2.6455,ey0:242.5,ek:540,my0:931.6,mk:223,t1:219,t2:698,t3:767,b:1041,
  eR:bEsRanks,eV:bEsVals,hits:bHits,mR:bMetricRanks,mV:bMetricVals,xTicks:bXTicks,eTicks:bEsTicks,eLabels:bEsLabels,mTicks:bMetricTicks,mLabels:bMetricLabels,
  red:402,redTop:244,redBottom:677,zero:138,zeroY:875,zeroText:'Zero crosses at 138',nes:'NES=-3.250',nesY:262});
gsea({id:'panelC',xk:2.689,ey0:1328.6,ek:697,my0:1988.9,mk:288,t1:1280,t2:1758,t3:1827,b:2102,
  eR:cEsRanks,eV:cEsVals,hits:cHits,mR:cMetricRanks,mV:cMetricVals,xTicks:cXTicks,eTicks:cEsTicks,eLabels:cEsLabels,mTicks:cMetricTicks,mLabels:cMetricLabels,
  red:316,redTop:1306,redBottom:1736,zero:139,zeroY:1933,zeroText:'Zero crosses at 139',nes:'NES=-3.762',nesY:1349});

/* ---------- Bar panels ---------- */
let clipN=0;
function barPanel(o){
  const g=tag(mk(document.getElementById(o.parent),'g',{}),o.name);
  const X=v=>o.L+(o.R-o.L)*v/300, Y=v=>o.y0-o.kl*v, Y2=v=>o.y0-o.kr*v;
  const id='clip'+(++clipN);
  const cp=mk(g,'clipPath',{id});
  mk(cp,'rect',{x:o.L,y:o.T,width:o.R-o.L,height:o.B-o.T});
  const body=mk(g,'g',{'clip-path':'url(#'+id+')'});
  const pts=[X(o.lR[0])+','+Y2(0)].concat(o.lR.map((r,i)=>X(r)+','+Y2(o.lV[i])),[X(o.lR[o.lR.length-1])+','+Y2(0)]).join(' ');
  tag(mk(body,'polygon',{points:pts,fill:'#dbe1f5'}),'running-score-area');
  tag(mk(body,'polyline',{points:o.lR.map((r,i)=>X(r)+','+Y2(o.lV[i])).join(' '),fill:'none',stroke:'#d4bfae','stroke-width':o.lw,'stroke-linejoin':'round'}),'running-score-line');
  const bar=(r,v,col,nm,w)=>{
    const y=Math.min(Y(v),Y(0));
    tag(mk(body,'rect',{x:X(r)-w/2,y:y,width:w,height:Math.abs(Y(v)-Y(0)),fill:col}),nm);
  };
  o.upR.forEach((r,i)=>bar(r,o.upV[i],'#00a094','bar-positive',o.bw));
  o.dnR.forEach((r,i)=>bar(r,o.dnV[i],'#0070bb','bar-negative',o.bw));
  o.gR.forEach((r,i)=>bar(r,o.gV[i],'#00ff00','bar-highlight',o.bw+1));
  tag(mk(body,'line',{x1:o.L,x2:o.R,y1:Y(0),y2:Y(0),stroke:'#808080','stroke-width':o.sw+1}),'zero-line');
  tag(mk(body,'line',{x1:X(o.red),x2:X(o.red),y1:o.B,y2:o.T,stroke:'#ff0000','stroke-width':o.rw,'stroke-dasharray':o.dash}),'threshold-line');
  tag(mk(g,'line',{x1:o.L,x2:o.R,y1:o.T,y2:o.T,stroke:'#000','stroke-width':o.sw}),'top-spine');
  tag(mk(g,'line',{x1:o.L,x2:o.R,y1:o.B,y2:o.B,stroke:'#000','stroke-width':o.sw}),'bottom-spine');
  tag(mk(g,'line',{x1:o.L,x2:o.L,y1:o.T,y2:o.B,stroke:'#000','stroke-width':o.sw*0.75}),'left-spine');
  tag(mk(g,'line',{x1:o.R,x2:o.R,y1:o.T,y2:o.B,stroke:'#000','stroke-width':o.sw*0.75}),'right-spine');
  barXTicks.forEach(t=>{
    tag(mk(g,'line',{x1:X(t),x2:X(t),y1:o.B,y2:o.B+o.tl,stroke:'#000','stroke-width':o.sw*0.75}),'x-tick');
    tag(mk(g,'text',{x:X(t),y:o.xLabelY,'text-anchor':'middle','font-size':o.fs,'font-family':DJ,stroke:'#000','stroke-width':0.7},String(t)),'x-tick-label');
  });
  o.lT.forEach((t,i)=>{
    tag(mk(g,'line',{x1:o.L-o.tl,x2:o.L,y1:Y(t),y2:Y(t),stroke:'#000','stroke-width':o.sw*0.75}),'left-tick');
    tag(mk(g,'text',{x:o.leftX,y:Y(t)+o.fs*0.36,'text-anchor':'end','font-size':o.fs,'font-family':DJ,fill:'#0072bd',stroke:'#0072bd','stroke-width':0.7},o.lL[i]),'left-tick-label');
  });
  o.rT.forEach((t,i)=>{
    tag(mk(g,'line',{x1:o.R,x2:o.R+o.tl,y1:Y2(t),y2:Y2(t),stroke:'#000','stroke-width':o.sw*0.75}),'right-tick');
    tag(mk(g,'text',{x:o.rightX,y:Y2(t)+o.fs*0.36,'font-size':o.fs,'font-family':DJ,fill:'#d4bfae',stroke:'#d4bfae','stroke-width':0.7},o.rL[i]),'right-tick-label');
  });
}
const dShared={parent:'panelD',L:455.4,R:2175.6,bw:5.5,lw:6,sw:4.5,rw:8,tl:22,fs:51,leftX:415,rightX:2219};
const eShared={parent:'panelE',L:2643.5,R:3887,bw:4,lw:5,sw:3,rw:7.5,tl:13,fs:36,leftX:2613,rightX:3918};
barPanel(Object.assign({},dShared,{name:'d-top-panel',T:2092.7,B:2738.3,y0:2428.8,kl:432.4,kr:1768,upR:d1UpRanks,upV:d1UpVals,dnR:d1DownRanks,dnV:d1DownVals,gR:d1GreenRanks,gV:d1GreenVals,lR:d1LineRanks,lV:d1LineVals,lT:d1LeftTicks,lL:d1LeftLabels,rT:d1RightTicks,rL:d1RightLabels,red:202,dash:'43 15',xLabelY:2814}));
barPanel(Object.assign({},dShared,{name:'d-bottom-panel',T:2896,B:3541,y0:3224,kl:1004,kr:6232,upR:d2UpRanks,upV:d2UpVals,dnR:d2DownRanks,dnV:d2DownVals,gR:d2GreenRanks,gV:d2GreenVals,lR:d2LineRanks,lV:d2LineVals,lT:d2LeftTicks,lL:d2LeftLabels,rT:d2RightTicks,rL:d2RightLabels,red:124,dash:'48 14',xLabelY:3617}));
barPanel(Object.assign({},eShared,{name:'e-top-panel',T:2411,B:2878.6,y0:2642.9,kl:332,kr:985,upR:e1UpRanks,upV:e1UpVals,dnR:e1DownRanks,dnV:e1DownVals,gR:e1GreenRanks,gV:e1GreenVals,lR:e1LineRanks,lV:e1LineVals,lT:e1LeftTicks,lL:e1LeftLabels,rT:e1RightTicks,rL:e1RightLabels,red:221,dash:'30 12',xLabelY:2935}));
barPanel(Object.assign({},eShared,{name:'e-bottom-panel',T:2991,B:3458.7,y0:3223.6,kl:723,kr:4240,upR:e2UpRanks,upV:e2UpVals,dnR:e2DownRanks,dnV:e2DownVals,gR:e2GreenRanks,gV:e2GreenVals,lR:e2LineRanks,lV:e2LineVals,lT:e2LeftTicks,lL:e2LeftLabels,rT:e2RightTicks,rL:e2RightLabels,red:170,dash:'30 12',xLabelY:3514}));
</script>
</body></html>
